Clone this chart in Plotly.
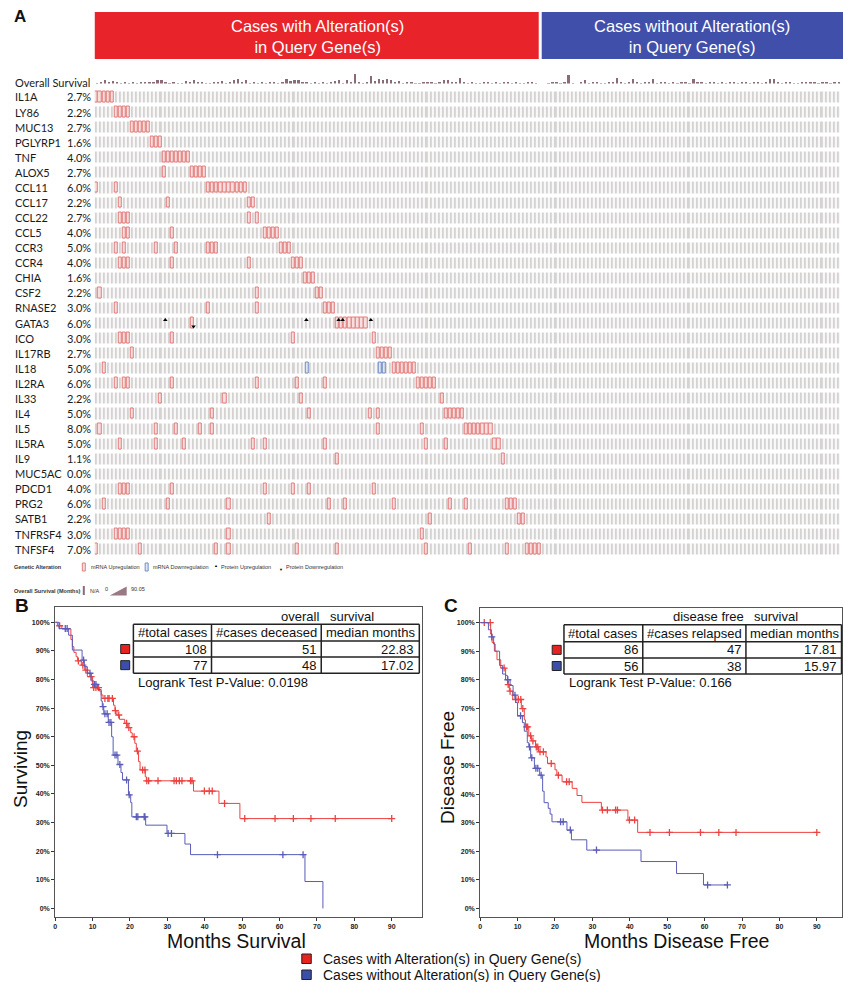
import plotly.graph_objects as go

W, H = 843, 982
def px(x): return x / W
def py(y): return 1 - y / H

# ---------------- DATA ----------------
genes = ["IL1A", "LY86", "MUC13", "PGLYRP1", "TNF", "ALOX5", "CCL11", "CCL17", "CCL22", "CCL5",
         "CCR3", "CCR4", "CHIA", "CSF2", "RNASE2", "GATA3", "ICO", "IL17RB", "IL18", "IL2RA",
         "IL33", "IL4", "IL5", "IL5RA", "IL9", "MUC5AC", "PDCD1", "PRG2", "SATB1", "TNFRSF4", "TNFSF4"]
pcts = ["2.7%", "2.2%", "2.7%", "1.6%", "4.0%", "2.7%", "6.0%", "2.2%", "2.7%", "4.0%",
        "5.0%", "4.0%", "1.6%", "2.2%", "3.0%", "6.0%", "3.0%", "2.7%", "5.0%", "6.0%",
        "2.2%", "5.0%", "8.0%", "5.0%", "1.1%", "0.0%", "4.0%", "6.0%", "2.2%", "3.0%", "7.0%"]
n_cases = 185

# case (column) indices with mRNA upregulation, one list per gene (same order as genes)
mrna_up_cols = [
    [0, 1, 2, 3, 4],
    [5, 6, 7, 8],
    [9, 10, 11, 12, 13],
    [14, 15, 16],
    [17, 18, 19, 20, 21, 22, 23],
    [17, 24, 25, 26, 27],
    [0, 5, 28, 29, 30, 31, 32, 33, 34, 35, 36, 37],
    [6, 18, 38, 39],
    [6, 7, 8, 38, 40],
    [7, 8, 19, 42, 43, 44, 45],
    [5, 7, 15, 20, 28, 29, 30, 46, 47, 48],
    [6, 7, 8, 19, 38, 49, 50, 51],
    [52, 53, 54],
    [1, 40, 55, 56],
    [5, 28, 40, 57, 58, 59],
    [24, 60, 61, 62, 63, 64, 65, 66, 67],
    [6, 7, 8, 19, 49, 69],
    [9, 70, 71, 72, 73],
    [2, 74, 75, 76, 77, 78, 79],
    [5, 7, 8, 19, 40, 50, 57, 80, 81, 82, 83, 84],
    [16, 32, 51, 86],
    [9, 29, 53, 68, 70, 87, 88, 89, 90, 91],
    [1, 15, 20, 26, 29, 70, 81, 92, 93, 94, 95, 96, 97, 98],
    [6, 15, 22, 39, 42, 57, 82, 87, 99, 100],
    [60, 101],
    [],
    [6, 7, 8, 19, 42, 49, 53, 69],
    [2, 18, 33, 58, 62, 74, 88, 92, 102, 103, 104],
    [43, 83, 105, 106],
    [5, 6, 7, 8, 33, 81],
    [0, 11, 30, 33, 50, 60, 82, 93, 102, 107, 108, 109, 110],
]
mrna_down_gene = ["IL18", "IL18", "IL18"]
mrna_down_col = [52, 70, 71]
prot_up_gene = ["GATA3", "GATA3", "GATA3", "GATA3", "GATA3"]
prot_up_col = [17, 52, 60, 61, 68]
prot_down_gene = ["GATA3"]
prot_down_col = [24]

# overall survival (months) per case column
os_months = [8, 14, 30, 20, 25, 10, 8, 12, 6, 10,
             8, 10, 12, 9, 14, 30, 30, 10, 8, 12,
             6, 8, 25, 10, 30, 12, 10, 8, 6, 10,
             12, 28, 8, 10, 35, 40, 12, 30, 8, 10,
             6, 14, 8, 10, 12, 8, 10, 40, 28, 33,
             30, 20, 10, 8, 12, 6, 10, 8, 14, 25,
             30, 8, 33, 10, 85, 12, 8, 10, 62, 25,
             40, 35, 38, 30, 10, 25, 8, 12, 10, 6,
             8, 12, 10, 14, 8, 10, 30, 35, 10, 20,
             48, 12, 8, 10, 6, 8, 10, 12, 8, 10,
             6, 10, 12, 8, 10, 6, 8, 10, 12, 8,
             0, 0, 8, 10, 12, 8, 10, 70, 8, 0,
             10, 30, 8, 12, 10, 6, 8, 10, 14, 48,
             10, 8, 12, 40, 10, 8, 12, 10, 45, 8,
             10, 12, 8, 10, 6, 12, 10, 8, 40, 10,
             12, 8, 10, 12, 8, 10, 6, 10, 12, 8,
             10, 12, 8, 14, 10, 8, 12, 45, 40, 10,
             8, 12, 10, 8, 6, 10, 12, 14, 10, 8,
             12, 10, 8, 10, 12]

# KM: overall survival (B)
os_alt_t = [0, 0.6, 1.8, 4.2, 4.6, 5.0, 5.6, 6.0, 7.0, 7.9, 8.6, 10.0, 11.8, 12.3, 12.8, 15.6, 16.0, 16.5,
            17.2, 18.6, 19.3, 20.2, 20.6, 21.3, 21.7, 22.3, 22.7, 24.1, 24.4, 37.0, 43.8, 49.4, 90.0]
os_alt_s = [100, 98.8, 97.7, 94.0, 91.5, 89.5, 88.0, 86.5, 85.0, 83.3, 81.0, 77.2, 76.0, 74.6, 73.4, 71.0, 69.1, 67.6,
            66.1, 64.7, 63.2, 61.4, 60.0, 57.7, 55.0, 51.3, 48.4, 46.0, 44.6, 41.0, 36.7, 31.4, 31.4]
os_alt_cens = [1.2, 6.2, 7.4, 8.2, 9.6, 10.3, 10.9, 11.6, 13.3, 14.1, 14.4, 15.3, 16.1, 17.0, 19.1, 19.7, 21.1,
               22.0, 23.4, 24.0, 24.5, 25.0, 27.5, 31.8, 32.4, 33.2, 33.9, 36.2, 36.6, 39.9, 41.2, 42.0, 45.3,
               50.7, 58.8, 63.7, 68.4, 74.9, 90.0]
os_unalt_t = [0, 1.0, 3.6, 4.6, 7.2, 7.8, 8.6, 9.6, 10.4, 11.3, 12.3, 12.6, 13.0, 14.2, 15.1, 15.5, 16.8, 17.6,
              18.0, 19.6, 20.2, 20.5, 24.2, 29.9, 34.7, 36.2, 66.8, 71.6]
os_unalt_s = [100, 97.8, 95.5, 90.3, 86.8, 84.5, 82.2, 79.5, 78.3, 76.5, 72.5, 70.5, 68.0, 65.0, 60.0, 53.6, 50.3, 47.5,
              44.9, 39.7, 37.0, 32.0, 29.1, 26.2, 22.5, 18.8, 9.4, 0]
os_unalt_cens = [2.7, 3.2, 7.6, 9.3, 10.5, 10.9, 12.8, 13.3, 13.9, 14.4, 14.9, 16.0, 16.5, 17.3, 19.1, 19.8,
                 21.7, 22.1, 23.8, 24.0, 30.2, 31.1, 43.4, 60.9, 66.3]

# KM: disease free survival (C)
dfs_alt_t = [0, 2.8, 3.2, 3.8, 4.5, 5.5, 6.8, 7.3, 7.8, 8.7, 11.0, 11.8, 12.1, 13.0, 13.7, 14.8, 15.6, 17.6,
             18.0, 20.0, 20.5, 21.9, 24.6, 25.9, 27.2, 32.4, 39.5, 42.1, 90.0]
dfs_alt_s = [100, 96, 93, 90, 87, 84.1, 81.5, 78.3, 76, 73.1, 69.9, 66, 63.5, 60.4, 58.6, 56.5, 54.8, 53,
             50.7, 48.5, 46.6, 44.3, 42, 39.5, 37.1, 34.4, 30.9, 26.6, 26.6]
dfs_alt_cens = [1.1, 2.7, 6.4, 7.5, 8.0, 9.5, 10.2, 10.85, 11.4, 12.4, 12.7, 13.5, 14.1, 15.0, 15.4, 16.0, 16.9,
                19.0, 20.9, 23.1, 23.8, 32.7, 34.0, 36.2, 36.7, 39.9, 41.3, 45.4, 50.6, 58.9, 63.8, 68.4, 90.0]
dfs_unalt_t = [0, 2.2, 3.0, 3.6, 4.0, 5.2, 6.0, 6.8, 8.0, 8.8, 9.5, 10.0, 11.3, 11.8, 12.6, 13.0, 13.5, 14.5,
               15.9, 16.7, 17.1, 18.2, 18.7, 19.2, 23.2, 24.4, 28.5, 43.0, 52.5, 59.7, 66.1]
dfs_unalt_s = [100, 97.5, 95, 92.5, 90, 85, 82, 80, 78, 74.6, 72, 67.4, 65, 62, 58, 56.5, 52.7, 49,
               46.6, 41, 37, 35, 33, 30.3, 27.4, 24, 20.4, 16.4, 12.2, 8.2, 8.2]
dfs_unalt_cens = [3.1, 7.4, 9.3, 10.8, 13.2, 13.8, 14.9, 15.4, 16.3, 21.5, 22.2, 24.1, 31.1, 60.8, 66.1]

os_table_header = ["#total cases", "#cases deceased", "median months"]
os_table_alt = ["108", "51", "22.83"]
os_table_unalt = ["77", "48", "17.02"]
os_pvalue = "Logrank Test P-Value: 0.0198"
dfs_table_header = ["#total cases", "#cases relapsed", "median months"]
dfs_table_alt = ["86", "47", "17.81"]
dfs_table_unalt = ["56", "38", "15.97"]
dfs_pvalue = "Logrank Test P-Value: 0.166"

# ---------------- STYLE ----------------
RED = "#EE4242"
BLUE = "#5A5CB8"
SQ_RED = "#E8231F"
SQ_BLUE = "#3C4FA8"
GRAY = "#D5D2D2"
MAUVE = "#8B6B77"
ARIAL = "Liberation Sans, Arial, sans-serif"
LBL = "Lato, Open Sans, sans-serif"

fig = go.Figure()

# ---------------- ONCOPRINT ----------------
cols = list(range(n_cases))
rows = list(range(len(genes)))
fig.add_trace(go.Heatmap(
    z=[[0] * n_cases for _ in genes], x=cols, y=rows,
    colorscale=[[0, GRAY], [1, GRAY]], showscale=False, xgap=1.8, ygap=4.0,
    hoverinfo="skip", xaxis="x", yaxis="y"))

up_x, up_y = [], []
for gi, cl in enumerate(mrna_up_cols):
    for c in cl:
        up_x.append(c)
        up_y.append(gi)
fig.add_trace(go.Bar(
    x=up_x, y=[0.72] * len(up_x), base=[r - 0.36 for r in up_y], width=0.78,
    marker=dict(color="#F4E0E0", line=dict(color="#E77B7B", width=1)),
    xaxis="x", yaxis="y", hoverinfo="skip", showlegend=False))
dn_y = [genes.index(g) for g in mrna_down_gene]
fig.add_trace(go.Bar(
    x=mrna_down_col, y=[0.72] * len(dn_y), base=[r - 0.36 for r in dn_y], width=0.78,
    marker=dict(color="#E0E6F2", line=dict(color="#6F8FC8", width=1)),
    xaxis="x", yaxis="y", hoverinfo="skip", showlegend=False))
fig.add_trace(go.Scatter(
    x=prot_up_col, y=[genes.index(g) - 0.2 for g in prot_up_gene], mode="markers",
    marker=dict(symbol="triangle-up", size=4, color="black"),
    xaxis="x", yaxis="y", hoverinfo="skip", showlegend=False))
fig.add_trace(go.Scatter(
    x=prot_down_col, y=[genes.index(g) + 0.22 for g in prot_down_gene], mode="markers",
    marker=dict(symbol="triangle-down", size=4, color="black"),
    xaxis="x", yaxis="y", hoverinfo="skip", showlegend=False))

# survival bars
fig.add_trace(go.Bar(
    x=cols, y=[max(v, 0) for v in os_months], width=0.55, marker=dict(color=MAUVE, line=dict(width=0)),
    xaxis="x", yaxis="y2", hoverinfo="skip", showlegend=False))

# ---------------- KM ----------------
def level_at(t, ts, ss):
    lv = ss[0]
    for a, b in zip(ts, ss):
        if a <= t:
            lv = b
    return lv

def km(ts, ss, cens, color, xa, ya):
    fig.add_trace(go.Scatter(x=ts, y=ss, mode="lines", line=dict(color=color, width=1, shape="hv"),
                             xaxis=xa, yaxis=ya, hoverinfo="skip", showlegend=False))
    fig.add_trace(go.Scatter(x=cens, y=[level_at(c, ts, ss) for c in cens], mode="markers",
                             marker=dict(symbol="cross-thin", size=5, color=color,
                                         line=dict(color=color, width=1.3)),
                             xaxis=xa, yaxis=ya, hoverinfo="skip", showlegend=False))

km(os_alt_t, os_alt_s, os_alt_cens, RED, "x2", "y3")
km(os_unalt_t, os_unalt_s, os_unalt_cens, BLUE, "x2", "y3")
km(dfs_alt_t, dfs_alt_s, dfs_alt_cens, RED, "x3", "y4")
km(dfs_unalt_t, dfs_unalt_s, dfs_unalt_cens, BLUE, "x3", "y4")

tickfont = dict(family=ARIAL, size=7, color="#222", weight="bold")
xt = list(range(0, 91, 10))
yt = list(range(0, 101, 10))
km_x = dict(tickvals=xt, ticktext=[str(v) for v in xt], ticks="outside", ticklen=3, tickcolor="#333",
            tickfont=tickfont, showline=True, mirror=True, linecolor="#555", linewidth=1,
            showgrid=False, zeroline=False, fixedrange=True)
km_y = dict(tickvals=yt, ticktext=[f"{v}%" for v in yt], ticks="outside", ticklen=3, tickcolor="#333",
            tickfont=tickfont, showline=True, mirror=True, linecolor="#555", linewidth=1,
            showgrid=False, zeroline=False, fixedrange=True)

layout = dict(
    width=W, height=H, margin=dict(l=0, r=0, t=0, b=0),
    paper_bgcolor="white", plot_bgcolor="white", showlegend=False, bargap=0,
    xaxis=dict(domain=[px(93), px(840.4)], range=[-0.5, n_cases - 0.5], visible=False, fixedrange=True),
    yaxis=dict(domain=[py(556.7), py(89.5)], range=[len(genes) - 0.5, -0.5], visible=False, fixedrange=True),
    yaxis2=dict(domain=[py(83.5), py(72.5)], range=[0, 90.05], visible=False, anchor="x", fixedrange=True),
    xaxis2=dict(domain=[px(53.3), px(421)], range=[0, 98.1], anchor="y3", **km_x),
    yaxis3=dict(domain=[py(917), py(607)], range=[-3.0, 105.35], anchor="x2", **km_y),
    xaxis3=dict(domain=[px(479.3), px(841.5)], range=[0, 96.6], anchor="y4", **km_x),
    yaxis4=dict(domain=[py(916.7), py(608.3)], range=[-2.9, 105.0], anchor="x3", **km_y),
)
fig.update_layout(**layout)

ann = []
shapes = []

def text(t, x, y, size, xa="left", ya="middle", color="#111", family=ARIAL, weight="normal", angle=0):
    ann.append(dict(text=t, x=px(x), y=py(y), xref="paper", yref="paper", xanchor=xa, yanchor=ya,
                    showarrow=False, textangle=angle,
                    font=dict(size=size, color=color, family=family, weight=weight)))

def rect(x0, y0, x1, y1, fill=None, line="#222", lw=1):
    shapes.append(dict(type="rect", xref="paper", yref="paper", x0=px(x0), x1=px(x1), y0=py(y1), y1=py(y0),
                       fillcolor=fill if fill else "rgba(0,0,0,0)",
                       line=dict(color=line, width=lw)))

def hline(x0, x1, y, lw=1.5, color="#222"):
    shapes.append(dict(type="line", xref="paper", yref="paper", x0=px(x0), x1=px(x1), y0=py(y), y1=py(y),
                       line=dict(color=color, width=lw)))

def vline(x, y0, y1, lw=1.5, color="#222"):
    shapes.append(dict(type="line", xref="paper", yref="paper", x0=px(x), x1=px(x), y0=py(y0), y1=py(y1),
                       line=dict(color=color, width=lw)))

# header boxes
rect(93, 12, 538, 59, fill="#E8232A", line="#E8232A", lw=0)
rect(541, 12, 843, 59, fill="#3F4FAA", line="#3F4FAA", lw=0)
text("Cases with Alteration(s)<br>in Query Gene(s)", 316, 36, 16.5, xa="center", color="white")
text("Cases without Alteration(s)<br>in Query Gene(s)", 692, 36, 16.5, xa="center", color="white")

# panel letters
text("A", 10, 16, 17, weight="bold")
text("B", 11, 605, 19, weight="bold")
text("C", 441, 605, 19, weight="bold")

# gene labels
text("Overall Survival", 11, 83, 11, family=LBL, color="#1a1a1a")
for k, (g, p) in enumerate(zip(genes, pcts)):
    yy = 97 + k * 15.07
    text(g, 11, yy, 11, family=LBL, color="#1a1a1a")
    text(p, 91, yy, 11, xa="right", family=LBL, color="#1a1a1a")

# oncoprint legend
text("Genetic Alteration", 10, 567, 5.5, weight="bold", color="#333")
rect(80.5, 563, 83.5, 571, fill="#F4E0E0", line="#E77B7B", lw=1)
text("mRNA Upregulation", 87, 567, 5.5, color="#333")
rect(143.5, 563, 146.5, 571, fill="#E0E6F2", line="#6F8FC8", lw=1)
text("mRNA Downregulation", 149, 567, 5.5, color="#333")
text("▲", 215, 565, 4, xa="center", color="black")
text("Protein Upregulation", 218, 567, 5.5, color="#333")
text("▼", 280, 569, 4, xa="center", color="black")
text("Protein Downregulation", 283, 567, 5.5, color="#333")
text("Overall Survival (Months)", 10, 590.5, 5.5, weight="bold", color="#333")
rect(81, 586, 83, 595, fill=MAUVE, line=MAUVE, lw=0)
text("N/A", 86, 590.5, 5.5, color="#333")
text("0", 105, 589, 5.5, xa="center", color="#333")
shapes.append(dict(type="path", xref="paper", yref="paper",
                   path=f"M {px(108)} {py(595.5)} L {px(125)} {py(595.5)} L {px(125)} {py(586.5)} Z",
                   fillcolor="#9A7884", line=dict(width=0)))
text("90.05", 127, 589, 5.5, color="#333")

# KM tables
def km_table(xs, ys, header, alt, unalt, sqx, title_parts, pval):
    x0, x3 = xs[0], xs[-1]
    hline(x0, x3, ys[0]); hline(x0, x3, ys[1]); hline(x0, x3, ys[2]); hline(x0, x3, ys[3])
    for xv in xs:
        vline(xv, ys[0], ys[3])
    hc = (ys[0] + ys[1]) / 2
    r1 = (ys[1] + ys[2]) / 2
    r2 = (ys[2] + ys[3]) / 2
    for i in range(3):
        text(header[i], xs[i] + 2.5, hc, 13)
        text(alt[i], xs[i + 1] - 3, r1, 13, xa="right")
        text(unalt[i], xs[i + 1] - 3, r2, 13, xa="right")
    rect(sqx, r1 - 4.5, sqx + 9, r1 + 4.5, fill=SQ_RED, line="#222", lw=1)
    rect(sqx, r2 - 4.5, sqx + 9, r2 + 4.5, fill=SQ_BLUE, line="#222", lw=1)
    for (t, xx) in title_parts:
        text(t, xx, 616, 13)
    text(pval, xs[0] + 3, 682, 13)

km_table([131.7, 210, 320, 418.3], [624.3, 641, 657, 673.3], os_table_header, os_table_alt, os_table_unalt,
         119, [("overall", 278), ("survival", 327)], os_pvalue)
km_table([563.3, 642.3, 745.7, 841.5], [624.7, 641.7, 658, 674], dfs_table_header, dfs_table_alt, dfs_table_unalt,
         551.5, [("disease free", 671), ("survival", 752)], dfs_pvalue)

# axis titles
text("Surviving", 18, 769, 19, xa="center", angle=-90)
text("Months Survival", 235, 941, 19.5, xa="center")
text("Disease Free", 446, 767, 19, xa="center", angle=-90)
text("Months Disease Free", 676, 941, 19.5, xa="center")

# bottom legend
rect(300.5, 954, 310, 963.5, fill=SQ_RED, line="#222", lw=1)
text("Cases with Alteration(s) in Query Gene(s)", 320, 959, 14)
rect(300.5, 970, 310, 979.5, fill=SQ_BLUE, line="#222", lw=1)
text("Cases without Alteration(s) in Query Gene(s)", 320, 974.5, 14)

fig.update_layout(annotations=ann, shapes=shapes)
fig.write_html("out.html", config={"displayModeBar": False},
               post_script="document.body.style.margin='0';document.body.style.overflow='hidden';")
